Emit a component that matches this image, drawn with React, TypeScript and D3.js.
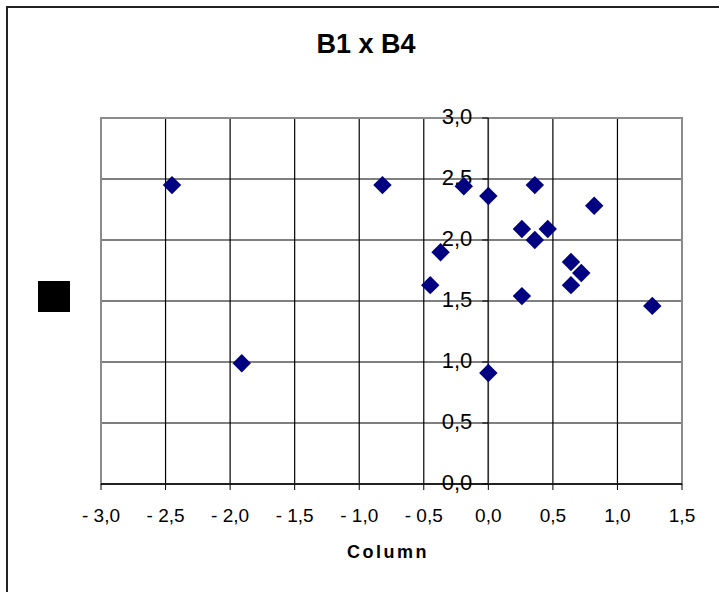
import { useEffect, useRef } from "react";
import * as d3 from "d3";

const xValues = [-2.45, -0.82, -1.91, -0.19, 0.0, 0.36, 0.82, 0.26, 0.46, 0.36, -0.37, -0.45, 0.64, 0.72, 0.64, 0.26, 1.27, 0.0];
const yValues = [2.45, 2.45, 0.99, 2.44, 2.36, 2.45, 2.28, 2.09, 2.09, 2.0, 1.9, 1.63, 1.82, 1.73, 1.63, 1.54, 1.46, 0.91];
const xTicks = [-3, -2.5, -2, -1.5, -1, -0.5, 0, 0.5, 1, 1.5];
const yTicks = [0, 0.5, 1, 1.5, 2, 2.5, 3];

const title = "B1 x B4";
const xTitle = "Column";

const fmt = (v: number) => {
    const s = Math.abs(v).toFixed(1).replace(".", ",");
    return v < 0 ? `- ${s}` : s;
};

export default function App() {
    const chartRef = useRef<SVGSVGElement | null>(null);

    useEffect(() => {
        if (!chartRef.current) return;

        const width = 719;
        const height = 592;
        const left = 101;
        const right = 682;
        const top = 118;
        const bottom = 484;
        const font = "'Liberation Sans', Arial, sans-serif";

        const svg = d3.select(chartRef.current);
        svg.selectAll("*").remove();
        svg.attr("width", width).attr("height", height);

        svg.append("rect")
            .attr("width", width)
            .attr("height", height)
            .attr("fill", "#fff");

        // chart frame
        svg.append("rect")
            .attr("x", 7)
            .attr("y", 7)
            .attr("width", width)
            .attr("height", height)
            .attr("fill", "none")
            .attr("stroke", "#222")
            .attr("stroke-width", 2);

        const x = d3.scaleLinear().domain([-3, 1.5]).range([left, right]);
        const y = d3.scaleLinear().domain([0, 3]).range([bottom, top]);

        // gridlines
        svg.append("g")
            .selectAll("line")
            .data(xTicks)
            .join("line")
            .attr("x1", (d) => x(d))
            .attr("x2", (d) => x(d))
            .attr("y1", top)
            .attr("y2", bottom)
            .attr("stroke", "#000")
            .attr("stroke-width", 1.2);

        svg.append("g")
            .selectAll("line")
            .data(yTicks)
            .join("line")
            .attr("x1", left)
            .attr("x2", right)
            .attr("y1", (d) => y(d))
            .attr("y2", (d) => y(d))
            .attr("stroke", "#000")
            .attr("stroke-width", 1.2);

        // plot area border
        svg.append("rect")
            .attr("x", left)
            .attr("y", top)
            .attr("width", right - left)
            .attr("height", bottom - top)
            .attr("fill", "none")
            .attr("stroke", "#8c8c8c")
            .attr("stroke-width", 2);

        // x axis at y = 0
        const xAxis = svg.append("g");
        xAxis.append("line")
            .attr("x1", left)
            .attr("x2", right)
            .attr("y1", y(0))
            .attr("y2", y(0))
            .attr("stroke", "#222")
            .attr("stroke-width", 2);
        xAxis.selectAll(".tick")
            .data(xTicks)
            .join("line")
            .attr("x1", (d) => x(d))
            .attr("x2", (d) => x(d))
            .attr("y1", y(0))
            .attr("y2", y(0) + 6)
            .attr("stroke", "#000");
        xAxis.selectAll("text")
            .data(xTicks)
            .join("text")
            .attr("x", (d) => x(d))
            .attr("y", y(0) + 38)
            .attr("text-anchor", "middle")
            .attr("font-family", font)
            .attr("font-size", "19px")
            .attr("fill", "#000")
            .text((d) => fmt(d));

        // y axis at x = 0
        const yAxis = svg.append("g");
        yAxis.append("line")
            .attr("x1", x(0))
            .attr("x2", x(0))
            .attr("y1", top)
            .attr("y2", bottom)
            .attr("stroke", "#333")
            .attr("stroke-width", 1.5);
        yAxis.selectAll(".tick")
            .data(yTicks)
            .join("line")
            .attr("x1", x(0) - 6)
            .attr("x2", x(0))
            .attr("y1", (d) => y(d))
            .attr("y2", (d) => y(d))
            .attr("stroke", "#000");
        yAxis.selectAll("text")
            .data(yTicks)
            .join("text")
            .attr("x", x(0) - 16)
            .attr("y", (d) => y(d) + 6)
            .attr("text-anchor", "end")
            .attr("font-family", font)
            .attr("font-size", "22px")
            .attr("fill", "#000")
            .text((d) => fmt(d));

        // points
        const diamond = d3.symbol().type(d3.symbolSquare).size(170);
        svg.append("g")
            .selectAll("path")
            .data(xValues.map((v, i) => [v, yValues[i]]))
            .join("path")
            .attr("d", diamond as any)
            .attr("transform", (d) => `translate(${x(d[0])},${y(d[1])}) rotate(45)`)
            .attr("fill", "#000080");

        svg.append("text")
            .attr("x", 366)
            .attr("y", 53)
            .attr("text-anchor", "middle")
            .attr("font-family", font)
            .attr("font-size", "27px")
            .attr("font-weight", "bold")
            .text(title);

        svg.append("text")
            .attr("x", 388)
            .attr("y", 558)
            .attr("text-anchor", "middle")
            .attr("font-family", font)
            .attr("font-size", "18px")
            .attr("font-weight", "bold")
            .attr("letter-spacing", "2.5px")
            .text(xTitle);

        // legend key
        svg.append("rect")
            .attr("x", 38)
            .attr("y", 281)
            .attr("width", 32)
            .attr("height", 31)
            .attr("fill", "#000");
    }, []);

    return (
        <svg
            ref={(el) => { if (el) chartRef.current = el; }}
            style={{ position: "absolute", left: 0, top: 0, display: "block" }}
        />
    );
}
